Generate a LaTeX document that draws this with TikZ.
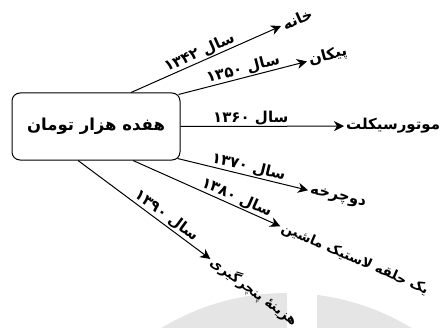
\documentclass[tikz,border=0pt]{standalone}
\usepackage{fontspec}
\newfontfamily\fafont[Script=Arabic]{DejaVu Sans}
\TeXXeTstate=1
\usetikzlibrary{arrows.meta}
\tikzset{
  arr/.style={-{Stealth[length=10pt,width=10pt,inset=3pt]}, line width=1pt},
  yearlbl/.style={font=\fafont\bfseries\fontsize{15}{17}\selectfont, sloped, above, inner sep=1pt},
  target/.style={font=\fafont\bfseries\fontsize{15}{17}\selectfont, inner sep=2pt, anchor=west},
  longtarget/.style={target, font=\fafont\bfseries\fontsize{13.5}{15}\selectfont}
}
\newcommand{\fa}[1]{\beginR #1\endR}

\begin{document}
\begin{tikzpicture}[x=1pt,y=1pt]
\useasboundingbox (0,0) rectangle (443,327);

% grey shape behind
\begin{scope}
\clip (0,0) rectangle (287,327);
\fill[black!10] (286.5,-207) circle (241pt);
\end{scope}
\begin{scope}
\clip (317,0) rectangle (443,327);
\fill[black!10] (286.5,-207) circle (241pt);
\end{scope}

\node[draw, line width=1pt, rounded corners=8pt, minimum width=168pt, minimum height=67pt, fill=white,
  font=\fafont\bfseries\fontsize{16.5}{18}\selectfont] (toman) at (96,200.5) {\fa{هفده هزار تومان}};

\coordinate (s1) at ([xshift=35pt]toman.north);
\coordinate (s2) at ([xshift=-2pt,yshift=-2pt]toman.north east);
\coordinate (s3) at (toman.east);
\coordinate (s4) at ([xshift=-3pt,yshift=2pt]toman.south east);
\coordinate (s5) at ([xshift=37pt]toman.south);
\coordinate (s6) at ([xshift=-18pt]toman.south);

\node[target, rotate=23.7] (khane) at (281,301) {\fa{خانه}};
\node[target, rotate=14.6] (peykan) at (307,265.5) {\fa{پیکان}};
\node[target] (motor) at (344,201) {\fa{موتورسیکلت}};
\node[target, rotate=-13.2] (docharkhe) at (308,136.5) {\fa{دوچرخه}};
\node[longtarget, rotate=-23.5] (lastik) at (280,100) {\fa{یک حلقه لاستیک ماشین}};
\node[longtarget, rotate=-36] (panchar) at (210,67.5) {\fa{هزینهٔ پنچرگیری}};

\draw[arr] (s1) -- node[yearlbl, pos=0.48]{\fa{سال ۱۳۴۲}} (khane);
\draw[arr] (s2) -- node[yearlbl, pos=0.52]{\fa{سال ۱۳۵۰}} (peykan);
\draw[arr] (s3) -- node[yearlbl, pos=0.43]{\fa{سال ۱۳۶۰}} (motor);
\draw[arr] (s4) -- node[yearlbl, pos=0.53]{\fa{سال ۱۳۷۰}} (docharkhe);
\draw[arr] (s5) -- node[yearlbl, pos=0.68]{\fa{سال ۱۳۸۰}} (lastik);
\draw[arr] (s6) -- node[yearlbl, pos=0.63]{\fa{سال ۱۳۹۰}} (panchar);

\end{tikzpicture}
\end{document}
